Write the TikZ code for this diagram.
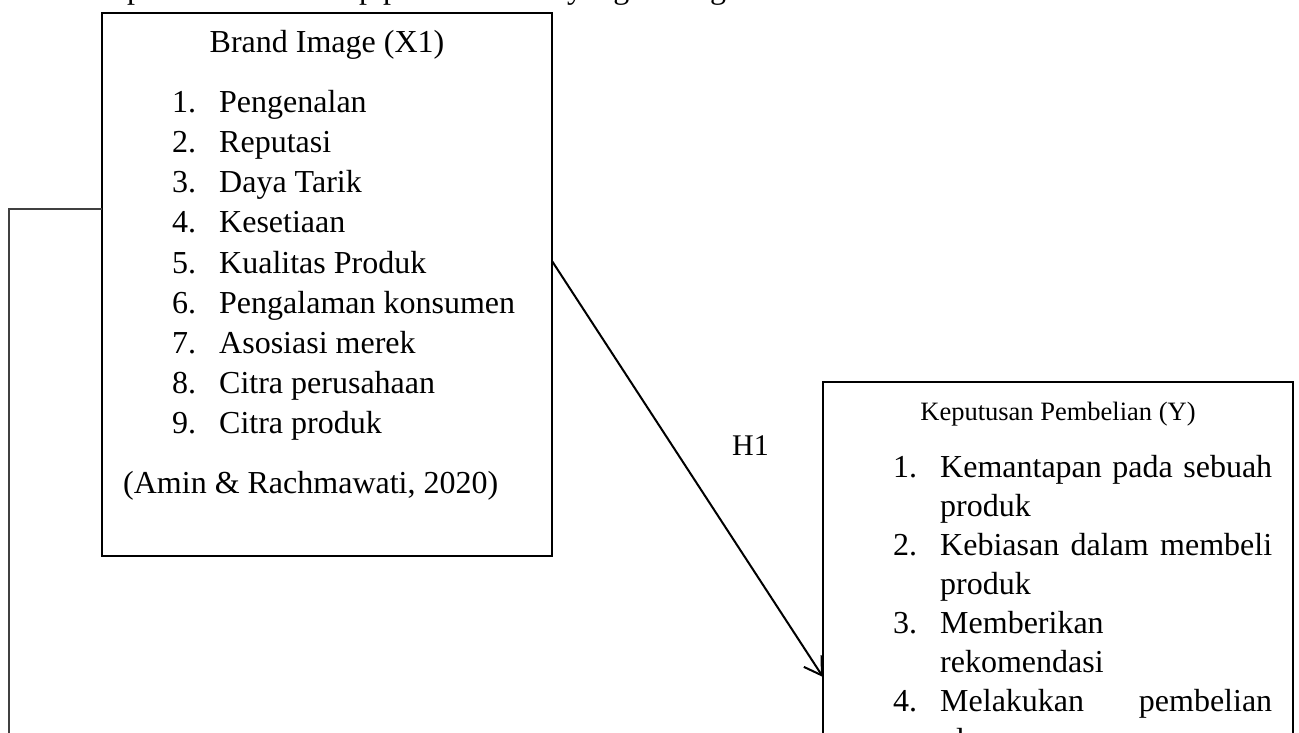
\documentclass[tikz,border=0pt]{standalone}
\usepackage{fontspec}
\setmainfont{Liberation Serif}
\usetikzlibrary{arrows.meta,calc}
\begin{document}
\begin{tikzpicture}[x=1pt,y=-1pt,
  box/.style={draw=black, line width=2.4pt, inner sep=0pt, outer sep=0pt},
  txt/.style={inner sep=0pt, anchor=base west, font=\fontsize{32}{38}\selectfont},
  ctxt/.style={inner sep=0pt, anchor=base, font=\fontsize{32}{38}\selectfont},
  smalltitle/.style={inner sep=0pt, anchor=base, font=\fontsize{26.5}{30}\selectfont},
  arr/.style={line width=2pt, -{Straight Barb[length=17pt,width=21pt,line width=2pt]}},
  conn/.style={line width=1.4pt, draw=black!75}]
\useasboundingbox (0,0) rectangle (1299,733);
\clip (0,0) rectangle (1299,733);

% clipped line of running text at the very top
\node[txt] (toptext) at (127,-1) {pemikiran terhadap permasalahan yang sedang diteliti};

% Box 1
\node[box, minimum width=450pt, minimum height=543pt] (b1) at (327,284.5) {};
\node[ctxt] (b1title) at (327,53) {Brand Image (X1)};
\foreach \i/\t in {1/Pengenalan,2/Reputasi,3/Daya Tarik,4/Kesetiaan,5/Kualitas Produk,6/Pengalaman konsumen,7/Asosiasi merek,8/Citra perusahaan,9/Citra produk}{
  \node[txt] (bn\i) at (172,73+40*\i) {\i.};
  \node[txt] (bt\i) at (219,73+40*\i) {\t};
}
\node[txt] (b1src) at (123,493) {(Amin \& Rachmawati, 2020)};

% Box 2
\node[box, minimum width=470pt, minimum height=380pt] (b2) at (1058,572) {};
\node[smalltitle] (b2title) at (1058,420) {Keputusan Pembelian (Y)};
\node[txt] (yn1) at (893,477) {1.};
\node[txt] (yt1) at (940,477) {\hbox to 332pt{Kemantapan\hfill pada\hfill sebuah}};
\node[txt] (yt1b) at (940,516) {produk};
\node[txt] (yn2) at (893,555) {2.};
\node[txt] (yt2) at (940,555) {\hbox to 332pt{Kebiasan\hfill dalam\hfill membeli}};
\node[txt] (yt2b) at (940,594) {produk};
\node[txt] (yn3) at (893,633) {3.};
\node[txt] (yt3) at (940,633) {Memberikan};
\node[txt] (yt3b) at (940,672) {rekomendasi};
\node[txt] (yn4) at (893,711) {4.};
\node[txt] (yt4) at (940,711) {\hbox to 332pt{Melakukan\hfill pembelian}};
\node[txt] (yt4b) at (940,750) {ulang};

% H1 arrow
\draw[arr] ($(b1.north east)+(0,248)$) -- ($(b2.north west)+(0,295)$);
\node[inner sep=0pt, anchor=base west, font=\fontsize{30}{34}\selectfont] (h1) at (732,455) {H1};

% left connector leaving the page
\coordinate (lc) at (9,745);
\draw[conn] ($(b1.north west)+(0,196)$) -| (lc);
\end{tikzpicture}
\end{document}
